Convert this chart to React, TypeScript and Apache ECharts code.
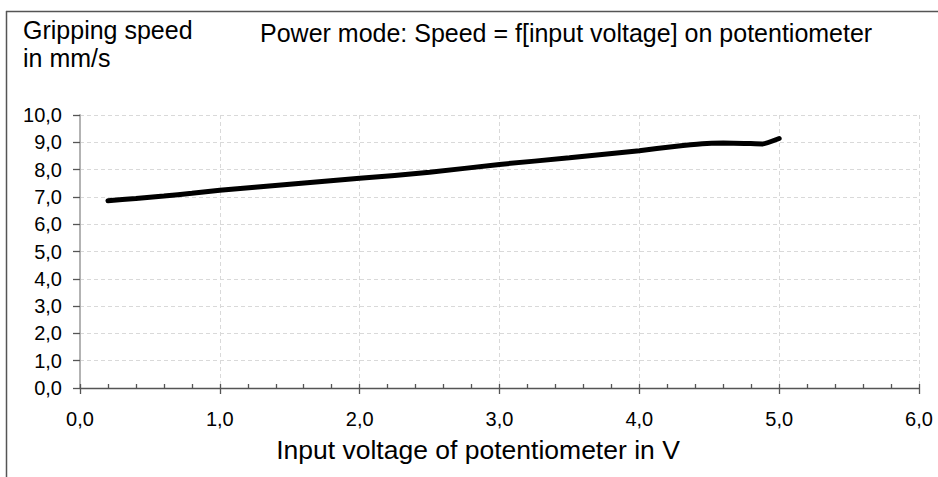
import React, { useEffect, useRef } from "react";
import * as echarts from "echarts";

const voltage = [0.2, 0.4, 0.6, 0.8, 1.0, 1.5, 2.0, 2.5, 3.0, 3.5, 4.0, 4.25, 4.45, 4.6, 4.75, 4.88, 5.0];
const speed = [6.86, 6.94, 7.03, 7.13, 7.24, 7.46, 7.68, 7.9, 8.19, 8.43, 8.69, 8.85, 8.95, 8.97, 8.96, 8.94, 9.14];

const titleText = "Power mode: Speed = f[input voltage] on potentiometer";
const yName = "Gripping speed\nin mm/s";
const xName = "Input voltage of potentiometer in V";

const FONT = "'Liberation Sans', Arial, sans-serif";
const fmt = (v: number) => v.toFixed(1).replace(".", ",");

export default function App() {
  const ref = useRef<HTMLDivElement>(null);
  useEffect(() => {
    if (!ref.current) return;
    const chart = echarts.init(ref.current, null, { renderer: "svg" });
    const gridLine = { show: true, lineStyle: { color: "#d9d9d9", type: [4, 3] as any, width: 1 } };
    chart.setOption({
      animation: false,
      textStyle: { fontFamily: FONT },
      grid: { left: 80, right: 19, top: 115, bottom: 89, containLabel: false },
      xAxis: [
        {
          type: "value",
          min: 0,
          max: 6,
          interval: 1,
          position: "bottom",
          axisLine: { show: true, lineStyle: { color: "#555", width: 1.3 } },
          axisTick: { show: true, inside: false, length: 6, lineStyle: { color: "#555", width: 1.3 } },
          axisLabel: { color: "#000", fontSize: 20, margin: 21, formatter: fmt, fontFamily: FONT },
          splitLine: gridLine,
        },
        {
          type: "value",
          min: 0,
          max: 6,
          interval: 1,
          position: "bottom",
          axisLine: { show: false },
          axisTick: { show: true, inside: true, length: 4, lineStyle: { color: "#555", width: 1.3 } },
          minorTick: { show: true, splitNumber: 5, length: 4, lineStyle: { color: "#555", width: 1.3 } },
          axisLabel: { show: false },
          splitLine: { show: false },
        },
      ],
      yAxis: {
        type: "value",
        min: 0,
        max: 10,
        interval: 1,
        axisLine: { show: true, lineStyle: { color: "#b3b3b3", width: 2 } },
        axisTick: { show: true, inside: false, length: 7, lineStyle: { color: "#555", width: 1.3 } },
        axisLabel: { color: "#000", fontSize: 20, margin: 18, formatter: fmt, fontFamily: FONT },
        splitLine: gridLine,
      },
      graphic: [
        { type: "line", shape: { x1: 6, y1: 11.5, x2: 938, y2: 11.5 }, style: { stroke: "#555", lineWidth: 1.5 } },
        { type: "line", shape: { x1: 6.5, y1: 11, x2: 6.5, y2: 477 }, style: { stroke: "#555", lineWidth: 1.5 } },
        {
          type: "text",
          x: 23,
          y: 16,
          style: { text: yName, font: `25px ${FONT}`, fill: "#000", textAlign: "left", textVerticalAlign: "top", lineHeight: 28 },
        },
        {
          type: "text",
          x: 260,
          y: 33,
          style: { text: titleText, font: `25px ${FONT}`, fill: "#000", textAlign: "left", textVerticalAlign: "middle" },
        },
        {
          type: "text",
          x: 478,
          y: 450,
          style: { text: xName, font: `26.5px ${FONT}`, fill: "#000", textAlign: "center", textVerticalAlign: "middle" },
        },
      ],
      series: [
        {
          type: "line",
          xAxisIndex: 0,
          data: voltage.map((v, i) => [v, speed[i]]),
          smooth: 0.15,
          showSymbol: false,
          lineStyle: { color: "#000", width: 5, cap: "round" },
        },
      ],
    });
    return () => chart.dispose();
  }, []);
  return <div ref={ref} style={{ position: "fixed", left: 0, top: 0, width: 938, height: 477, background: "#fff" }} />;
}
